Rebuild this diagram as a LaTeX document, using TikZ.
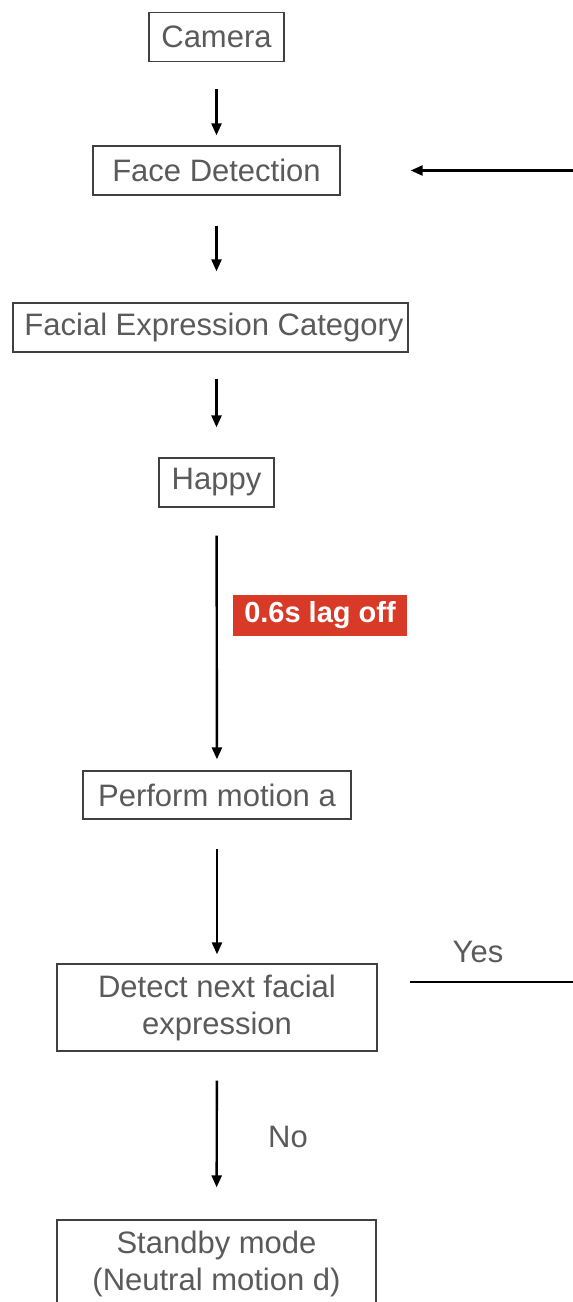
\documentclass[tikz,border=0pt]{standalone}
\usepackage{fontspec}
\setmainfont{Liberation Sans}
\usetikzlibrary{arrows.meta}
\definecolor{txt}{HTML}{5A5A5A}
\definecolor{bord}{HTML}{404040}
\definecolor{lagred}{HTML}{D93A27}
\begin{document}
\begin{tikzpicture}[x=1pt,y=-1pt,
  box/.style={draw=bord, line width=1.3pt, text=txt, font=\fontsize{31}{37}\selectfont, inner sep=0pt, align=center},
  arr/.style={-{Triangle[length=12pt,width=10pt]}, line width=2.4pt, black},
  plain/.style={line width=2.4pt, black},
  lbl/.style={text=txt, font=\fontsize{31}{37}\selectfont, inner sep=0pt},
  lag/.style={fill=lagred, text=white, font=\bfseries\fontsize{29}{34}\selectfont, inner sep=0pt, minimum width=174pt, minimum height=41pt}]
\useasboundingbox (0,0) rectangle (573,1302);
\node[box, minimum width=135pt, minimum height=49pt] (camera) at (216.5,37) {Camera};
\node[box, minimum width=247pt, minimum height=49pt] (face) at (216.5,170.5) {Face Detection};
\node[box, minimum width=395pt, minimum height=49pt] (fec) at (210.5,327.5) {\hspace*{7pt}Facial Expression Category};
\node[box, minimum width=115pt, minimum height=49pt] (happy) at (216.5,482.5) {Happy};
\node[box, minimum width=268pt, minimum height=48pt] (perform) at (217,795) {Perform motion a};
\node[box, minimum width=320pt, minimum height=87pt] (detect) at (217,1007.5) {Detect next facial\\expression};
\node[box, minimum width=319pt, minimum height=87pt] (standby) at (216.5,1263.5) {Standby mode\\(Neutral motion d)};
\node[lag] (lagoff) at (320,615.5) {0.6s lag off};
\node[lbl] (yes) at (478,952) {Yes};
\node[lbl] (no) at (288,1137) {No};
\coordinate (loopin) at (573,170.5);
\coordinate (loopout) at (573,982);
\draw[arr, shorten <=27pt, shorten >=10pt] (camera) -- (face);
\draw[arr, shorten <=30pt, shorten >=31pt] (face) -- (face |- fec.north);
\draw[arr, shorten <=26pt, shorten >=30pt] (happy |- fec.south) -- (happy);
\draw[arr, shorten <=28pt, shorten >=11pt] (happy) -- (perform);
\draw[arr, shorten <=29pt, shorten >=9pt] (perform) -- (detect);
\draw[arr, shorten <=29pt, shorten >=32pt] (detect) -- (standby);
\draw[arr, shorten >=70pt] (loopin) -- (face.east);
\draw[plain, shorten <=32pt] (detect.east |- loopout) -- (loopout);
\end{tikzpicture}
\end{document}
